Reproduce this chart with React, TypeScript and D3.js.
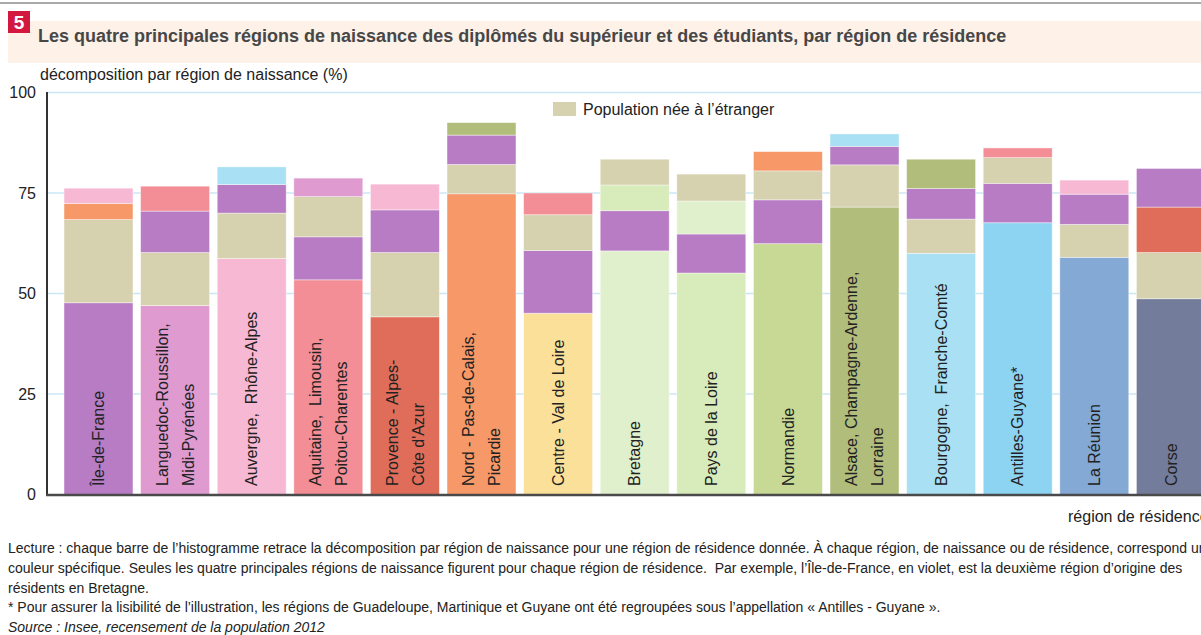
import React from "react";
import * as d3 from "d3";

// régions de résidence (libellés sur une ou deux lignes)
const residenceLabels: string[][] = [
  ["Île-de-France"],
  ["Languedoc-Roussillon,", "Midi-Pyrénées"],
  ["Auvergne,  Rhône-Alpes"],
  ["Aquitaine,  Limousin,", "Poitou-Charentes"],
  ["Provence - Alpes-", "Côte d'Azur"],
  ["Nord - Pas-de-Calais,", "Picardie"],
  ["Centre - Val de Loire"],
  ["Bretagne"],
  ["Pays de la Loire"],
  ["Normandie"],
  ["Alsace, Champagne-Ardenne,", "Lorraine"],
  ["Bourgogne,  Franche-Comté"],
  ["Antilles-Guyane*"],
  ["La Réunion"],
  ["Corse"],
];

// codes des régions (même ordre que les barres) + étranger
const regionKeys = ["IDF", "LRMP", "ARA", "ALPC", "PACA", "NPCP", "CVL", "BRE", "PDL", "NOR", "ACAL", "BFC", "ANT", "REU", "COR"];
const regionColors = ["#b77cc4", "#df9ad0", "#f7b8d3", "#f38e96", "#e06d5a", "#f69868", "#fbe09a", "#e0f0cd", "#d8ebbb", "#c8d996", "#b1bd7b", "#a9e0f3", "#8dd4f3", "#84a9d5", "#747c9b"];
const foreignKey = "ETR";
const foreignColor = "#d6d2af";

// les quatre principales régions de naissance, de bas en haut
const stackOrigins: string[][] = [
  ["IDF", "ETR", "NPCP", "ARA"],
  ["LRMP", "ETR", "IDF", "ALPC"],
  ["ARA", "ETR", "IDF", "BFC"],
  ["ALPC", "IDF", "ETR", "LRMP"],
  ["PACA", "ETR", "IDF", "ARA"],
  ["NPCP", "ETR", "IDF", "ACAL"],
  ["CVL", "IDF", "ETR", "ALPC"],
  ["BRE", "IDF", "PDL", "ETR"],
  ["PDL", "IDF", "BRE", "ETR"],
  ["NOR", "IDF", "ETR", "NPCP"],
  ["ACAL", "ETR", "IDF", "BFC"],
  ["BFC", "ETR", "IDF", "ACAL"],
  ["ANT", "IDF", "ETR", "ALPC"],
  ["REU", "ETR", "IDF", "ARA"],
  ["COR", "ETR", "PACA", "IDF"],
];
const stackValues: number[][] = [
  [47.7, 20.7, 4.0, 3.8],
  [47.0, 13.2, 10.3, 6.2],
  [58.7, 11.3, 7.1, 4.4],
  [53.4, 10.7, 10.0, 4.6],
  [44.2, 16.0, 10.6, 6.4],
  [74.8, 7.3, 7.3, 3.1],
  [45.1, 15.6, 8.9, 5.4],
  [60.6, 10.0, 6.4, 6.4],
  [55.1, 9.7, 8.2, 6.7],
  [62.4, 10.9, 7.2, 4.8],
  [71.5, 10.5, 4.6, 3.1],
  [60.0, 8.5, 7.6, 7.3],
  [67.6, 9.8, 6.4, 2.4],
  [59.0, 8.2, 7.5, 3.5],
  [48.7, 11.5, 11.3, 9.6],
];

const yTicks = [0, 25, 50, 75, 100];

const title = "Les quatre principales régions de naissance des diplômés du supérieur et des étudiants, par région de résidence";
const yTitle = "décomposition par région de naissance (%)";
const xTitle = "région de résidence";
const legendLabel = "Population née à l’étranger";
const notes = [
  "Lecture : chaque barre de l’histogramme retrace la décomposition par région de naissance pour une région de résidence donnée. À chaque région, de naissance ou de résidence, correspond une",
  "couleur spécifique. Seules les quatre principales régions de naissance figurent pour chaque région de résidence.  Par exemple, l’Île-de-France, en violet, est la deuxième région d’origine des",
  "résidents en Bretagne.",
  "* Pour assurer la lisibilité de l’illustration, les régions de Guadeloupe, Martinique et Guyane ont été regroupées sous l’appellation « Antilles - Guyane ».",
];
const source = "Source : Insee, recensement de la population 2012";

const W = 1201;
const H = 635;
const FONT = "'Liberation Sans', Arial, Helvetica, sans-serif";

export default function App() {
  const color = (k: string) =>
    k === foreignKey ? foreignColor : regionColors[regionKeys.indexOf(k)];

  const x = d3
    .scaleBand<number>()
    .domain(d3.range(residenceLabels.length))
    .range([60.2, 1209.2])
    .paddingInner(0.1)
    .paddingOuter(0.05);

  const y = d3.scaleLinear().domain([0, 100]).range([494.5, 92.5]);

  const bars = stackValues.map((vals, i) => {
    let acc = 0;
    return vals.map((v, j) => {
      const seg = { key: stackOrigins[i][j], y0: acc, y1: acc + v };
      acc += v;
      return seg;
    });
  });

  return (
    <svg
      width={W}
      height={H}
      style={{ position: "absolute", left: 0, top: 0, display: "block", background: "#fff" }}
      fontFamily={FONT}
    >
      <line x1={0} x2={W} y1={3} y2={3} stroke="#8c8c8c" strokeWidth={1.5} />
      <rect x={8} y={21} width={W - 8} height={42} fill="#fdf1e8" />
      <rect x={8} y={11} width={22} height={22} fill="#d3173f" />
      <text x={19} y={29} textAnchor="middle" fill="#fff" fontSize={19} fontWeight="bold">5</text>
      <text x={38} y={42} fill="#474747" fontSize={18} fontWeight="bold">{title}</text>

      <text x={40} y={80} fill="#222" fontSize={16}>{yTitle}</text>

      {yTicks.slice(1).map((t) => (
        <line key={t} x1={47} x2={W} y1={y(t)} y2={y(t)} stroke="#cbe7f6" strokeWidth={1.5} />
      ))}
      {yTicks.map((t) => (
        <text key={t} x={36} y={y(t)} dy="0.35em" textAnchor="end" fill="#222" fontSize={16}>
          {t}
        </text>
      ))}

      {bars.map((segs, i) => (
        <g key={i}>
          {segs.map((s, j) => (
            <rect
              key={j}
              x={x(i)}
              width={x.bandwidth()}
              y={y(s.y1)}
              height={y(s.y0) - y(s.y1)}
              fill={color(s.key)}
              stroke="#fff"
              strokeOpacity={0.5}
              strokeWidth={0.8}
            />
          ))}
        </g>
      ))}

      {residenceLabels.map((lines, i) => {
        const cx = (x(i) as number) + x.bandwidth() / 2;
        return lines.map((ln, k) => {
          const off = lines.length === 1 ? 0 : k === 0 ? -13 : 13;
          return (
            <text
              key={i + "-" + k}
              transform={`translate(${cx + off},486) rotate(-90)`}
              dy="0.35em"
              fill="#222"
              fontSize={16}
              style={{ whiteSpace: "pre" }}
            >
              {ln}
            </text>
          );
        });
      })}

      <line x1={47} x2={47} y1={92} y2={495} stroke="#333" strokeWidth={2} />
      <line x1={46} x2={W} y1={495} y2={495} stroke="#4a4a4a" strokeWidth={2.5} />

      <rect x={553} y={102} width={23} height={14} fill={foreignColor} />
      <text x={583} y={109} dy="0.35em" fill="#222" fontSize={16}>{legendLabel}</text>

      <text x={1068} y={522} fill="#222" fontSize={16}>{xTitle}</text>

      {notes.map((n, i) => (
        <text key={i} x={8} y={553 + i * 19.75} fill="#222" fontSize={14} style={{ whiteSpace: "pre" }}>
          {n}
        </text>
      ))}
      <text x={8} y={553 + 4 * 19.75} fill="#222" fontSize={14} fontStyle="italic">{source}</text>
    </svg>
  );
}
